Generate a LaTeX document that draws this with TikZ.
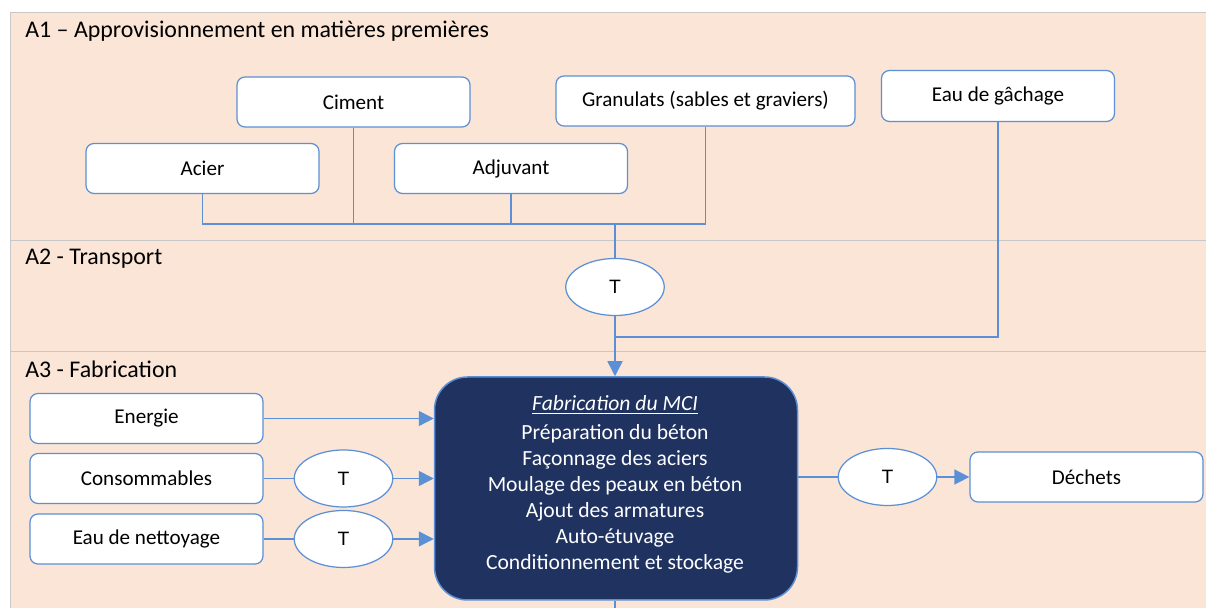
\documentclass[tikz,border=0pt]{standalone}
\usepackage{fontspec}
\setmainfont{Carlito}
\newfontfamily\arialfont{Liberation Sans}
\usetikzlibrary{shapes.geometric,arrows.meta}
\definecolor{peche}{HTML}{FBE5D6}
\definecolor{trait}{HTML}{5B8FD6}
\definecolor{marine}{HTML}{1F3260}
\definecolor{grisbord}{HTML}{C8C8C8}

\begin{document}
\begin{tikzpicture}[
	matbox/.style={shape=rectangle,rounded corners=0.16cm,draw=trait,line width=0.7pt,fill=white,minimum width=4.66cm,minimum height=1cm,inner sep=0pt,font=\fontsize{12}{14}\selectfont},
	tbox/.style={shape=ellipse,draw=trait,line width=0.7pt,fill=white,minimum width=1.97cm,minimum height=1.14cm,inner sep=0pt,font=\arialfont\fontsize{11}{13}\selectfont},
	lien/.style={draw=trait,line width=0.85pt},
	fleche/.style={lien,-{Triangle[length=0.3cm,width=0.3cm]}},
	zone/.style={anchor=west,inner sep=0pt,font=\fontsize{13.6}{16}\selectfont}]
	\useasboundingbox (0,0) rectangle (24.12,12.16);
	\fill[peche] (0.2,0) rectangle (24.12,11.92);
	\draw[grisbord] (24.12,11.92) -- (0.2,11.92) -- (0.2,0);
	\draw[grisbord] (0.2,7.36) -- (24.12,7.36);
	\draw[grisbord] (0.2,5.14) -- (24.12,5.14);

	\node[zone] (za1) at (0.5, 11.53) {A1 – Approvisionnement en matières premières};
	\node[zone] (za2) at (0.5, 6.99)  {A2 - Transport};
	\node[zone] (za3) at (0.5, 4.77)  {A3 - Fabrication};

	\node[matbox] (ciment)    at (7.07, 10.12)  {Ciment};
	\node[matbox,minimum width=5.98cm] (granulats) at (14.11, 10.14) {Granulats (sables et graviers)};
	\node[matbox,minimum height=1.02cm] (eau) at (19.96, 10.24) {Eau de gâchage};
	\node[matbox] (acier)     at (4.05, 8.79)   {Acier};
	\node[matbox] (adjuvant)  at (10.22, 8.79)  {Adjuvant};

	\coordinate (bus)  at (12.3, 7.68);
	\coordinate (join) at (12.3, 5.42);
	\coordinate (sortie) at (12.3, 0);

	\node[tbox] (t1) at (12.3, 6.42)  {T};

	\node[shape=rectangle,rounded corners=0.66cm,draw=trait,line width=0.85pt,fill=marine,minimum width=7.26cm,minimum height=4.46cm] (mci) at (12.32, 2.39) {};
	\node[text=white,align=center,font=\fontsize{12.3}{14.8}\selectfont] (mcitxt) at (12.3, 2.47)
		{\underline{\textit{Fabrication du MCI}}\\[0.06cm]Préparation du béton\\Façonnage des aciers\\Moulage des peaux en béton\\Ajout des armatures\\Auto-étuvage\\Conditionnement et stockage};

	\node[matbox] (energie) at (2.93, 3.79) {Energie};
	\node[matbox] (conso)   at (2.93, 2.59) {Consommables};
	\node[matbox] (nett)    at (2.93, 1.38) {Eau de nettoyage};
	\node[tbox] (tc) at (6.87, 2.59) {T};
	\node[tbox] (tn) at (6.87, 1.38) {T};
	\node[tbox] (td) at (17.75, 2.62) {T};
	\node[matbox] (dechets) at (21.73, 2.62) {Déchets};

	\draw[lien] (acier.south) |- (bus) -| (granulats.south);
	\draw[lien] (ciment.south) -- (ciment.south |- bus);
	\draw[lien] (adjuvant.south) -- (adjuvant.south |- bus);
	\draw[lien] (bus) -- (t1.north);
	\draw[fleche] (t1.south) -- (mci.north -| t1);
	\draw[lien] (eau.south) |- (join);

	\draw[fleche] (energie.east) -- (energie.east -| mci.west);
	\draw[lien] (conso.east) -- (tc.west);
	\draw[fleche] (tc.east) -- (tc.east -| mci.west);
	\draw[lien] (nett.east) -- (tn.west);
	\draw[fleche] (tn.east) -- (tn.east -| mci.west);
	\draw[lien] (td.west -| mci.east) -- (td.west);
	\draw[fleche] (td.east) -- (dechets.west);
	\draw[lien] (mci.south -| t1) -- (sortie);
\end{tikzpicture}
\end{document}
